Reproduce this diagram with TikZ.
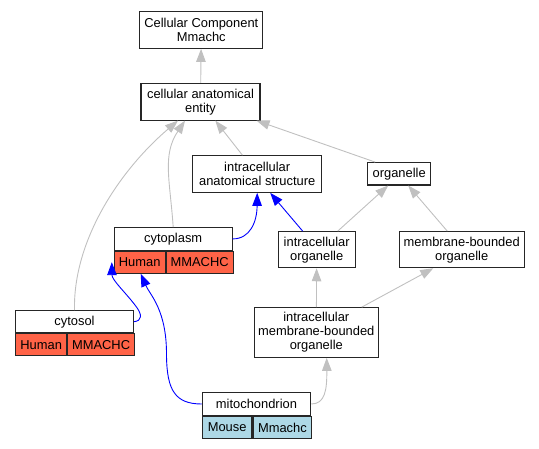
\documentclass[tikz,border=0pt]{standalone}
\usepackage{fontspec}
\setmainfont{Liberation Sans}
\usepackage{tikz}
\usetikzlibrary{arrows.meta,positioning}
\definecolor{tomato}{RGB}{255,99,71}
\definecolor{mouseblue}{RGB}{173,216,230}
\definecolor{edgegray}{RGB}{192,192,192}
\tikzstyle{term} = [rectangle, draw = black!85, line width = 1.1pt, align = center, inner sep = 0pt, font = \fontsize{12.9}{14}\selectfont]
\tikzstyle{human} = [term, fill = tomato, minimum height = 22pt, anchor = north west]
\tikzstyle{mouse} = [term, fill = mouseblue, minimum height = 22pt, anchor = north west]
\tikzstyle{isa} = [draw = edgegray, line width = 0.9pt, -{Triangle[length = 13pt, width = 9.5pt]}]
\tikzstyle{partof} = [isa, draw = blue]

\begin{document}
\begin{tikzpicture}[x = 1pt, y = -1pt]
    \useasboundingbox (0,0) rectangle (539,448);
    \node (cell-comp) [term, minimum width = 123pt, minimum height = 36.6pt] at (201.3,30) {Cellular Component\\ Mmachc};
    \node (cell-ent) [term, minimum width = 119pt, minimum height = 36.7pt] at (200.5,101.7) {cellular anatomical\\ entity};
    \node (intra-struct) [term, minimum width = 129pt, minimum height = 36.6pt] at (257.2,174) {intracellular\\ anatomical structure};
    \node (organelle) [term, minimum width = 63pt, minimum height = 22.3pt] at (399.2,173.8) {organelle};
    \node (intra-org) [term, minimum width = 76.7pt, minimum height = 36pt] at (316.7,249.7) {intracellular\\ organelle};
    \node (membrane-org) [term, minimum width = 124.7pt, minimum height = 36pt] at (461.7,249.7) {membrane-bounded\\ organelle};
    \node (intra-membrane-org) [term, minimum width = 124pt, minimum height = 49.6pt] at (316.3,332.5) {intracellular\\ membrane-bounded\\ organelle};

    \node (cytoplasm) [term, minimum width = 117.7pt, minimum height = 22.3pt] at (173.2,238.9) {cytoplasm};
    \node (cytoplasm-sp) [human, minimum width = 50.7pt] at (cytoplasm.south west) {Human};
    \node (cytoplasm-gene) [human, minimum width = 67pt] at (cytoplasm-sp.north east) {MMACHC};
    \node (cytosol) [term, minimum width = 117.6pt, minimum height = 22pt] at (74.5,321.7) {cytosol};
    \node (cytosol-sp) [human, minimum width = 51pt] at (cytosol.south west) {Human};
    \node (cytosol-gene) [human, minimum width = 66.6pt] at (cytosol-sp.north east) {MMACHC};
    \node (mito) [term, minimum width = 108.4pt, minimum height = 22.6pt] at (256.5,404) {mitochondrion};
    \node (mito-sp) [mouse, minimum width = 49.7pt] at (mito.south west) {Mouse};
    \node (mito-gene) [mouse, minimum width = 58.7pt] at (mito-sp.north east) {Mmachc};

    \draw [isa] (cell-ent) -- (cell-comp);
    \draw [isa] (intra-struct) -- (cell-ent);
    \draw [isa] ([xshift=-24pt]organelle.north) -- ([xshift=56pt]cell-ent.south);
    \draw [isa] (cytoplasm.north) .. controls (170,180) and (162,155) .. ([xshift=-15.5pt]cell-ent.south);
    \draw [isa] (cytosol.north) .. controls (73,240) and (120,170) .. ([xshift=-22.5pt]cell-ent.south);
    \draw [partof] (cytoplasm.east) .. controls (250,239) and (257,222) .. (intra-struct.south);
    \draw [partof] ([xshift=-14pt]intra-org.north) -- ([xshift=13pt]intra-struct.south);
    \draw [isa] ([xshift=21pt]intra-org.north) -- ([xshift=-11pt]organelle.south);
    \draw [isa] ([xshift=-14.4pt]membrane-org.north) -- ([xshift=9pt]organelle.south);
    \draw [isa] (intra-membrane-org) -- (intra-org);
    \draw [isa] ([xshift=45.4pt]intra-membrane-org.north) -- ([xshift=-28.4pt]membrane-org.south);
    \draw [partof] (cytosol.east) .. controls (142,321) and (143,315) .. (135,305) .. controls (125,292) and (112,280) .. ([xshift=-2pt]cytoplasm-sp.west);
    \draw [partof] (mito.west) .. controls (175,404) and (167,390) .. (166.5,356) .. controls (167,310) and (150,295) .. ([xshift=1pt]cytoplasm-sp.south);
    \draw [isa] (mito.east) .. controls (325,404) and (327,390) .. ([xshift=10.4pt]intra-membrane-org.south);
\end{tikzpicture}
\end{document}
